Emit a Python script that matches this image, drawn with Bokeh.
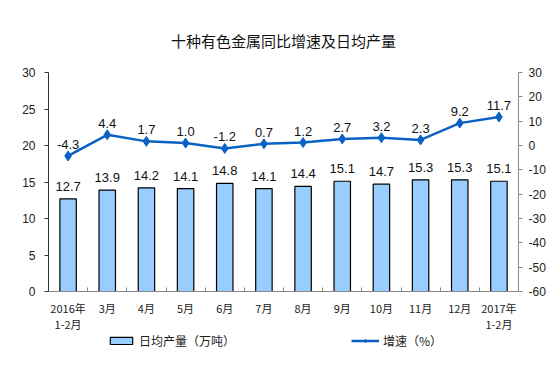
from bokeh.plotting import figure
from bokeh.layouts import column
from bokeh.models import (Range1d, LinearAxis, FixedTicker, ColumnDataSource, Legend,
                          LegendItem, LabelSet, Title)
from bokeh.core.properties import value
from bokeh.embed import file_html
from bokeh.resources import INLINE

categories = ["2016年\n1-2月", "3月", "4月", "5月", "6月", "7月", "8月", "9月",
              "10月", "11月", "12月", "2017年\n1-2月"]
output = [12.7, 13.9, 14.2, 14.1, 14.8, 14.1, 14.4, 15.1, 14.7, 15.3, 15.3, 15.1]
growth = [-4.3, 4.4, 1.7, 1.0, -1.2, 0.7, 1.2, 2.7, 3.2, 2.3, 9.2, 11.7]
left_ticks = [0, 5, 10, 15, 20, 25, 30]
right_ticks = [-60, -50, -40, -30, -20, -10, 0, 10, 20, 30]

xs = list(range(len(categories)))
src = ColumnDataSource(dict(
    x=xs, out=output, gr=growth,
    out_lbl=[f"{v:.1f}" for v in output],
    gr_lbl=[f"{v:.1f}" for v in growth],
))

CJK = "Noto Sans CJK SC"
NUM = "Liberation Sans"
BAR_FILL = "#99CCFF"
LINE_COL = "#0B62C4"

p = figure(frame_width=470, frame_height=219, output_backend="svg", toolbar_location=None,
           x_range=Range1d(-0.5, len(categories) - 0.5), y_range=Range1d(0, 30),
           min_border_left=48, min_border_right=30, min_border_top=72,
           min_border_bottom=33)
p.outline_line_color = None
p.xgrid.visible = False
p.ygrid.visible = False
p.background_fill_color = "white"
p.border_fill_color = "white"

p.title = Title(text="十种有色金属同比增速及日均产量", align="center",
                text_font=CJK, text_font_size="15px", text_font_style="normal",
                text_color="#111111")
p.add_layout(Title(text=" ", text_font_size="4px"), "above")

p.extra_y_ranges = {"right": Range1d(-60, 30)}

# left axis
ya = p.yaxis[0]
ya.ticker = FixedTicker(ticks=left_ticks)
ya.minor_tick_line_color = None
ya.major_tick_out = 4
ya.major_tick_in = 0
ya.axis_line_color = "#333333"
ya.major_tick_line_color = "#333333"
ya.major_label_text_font = NUM
ya.major_label_text_font_size = "12px"
ya.major_label_text_color = "#222222"
ya.major_label_standoff = 9

ra = LinearAxis(y_range_name="right", ticker=FixedTicker(ticks=right_ticks))
ra.major_label_overrides = {t: str(t) for t in right_ticks}
ra.minor_tick_line_color = None
ra.major_tick_out = 4
ra.major_tick_in = 0
ra.axis_line_color = "#888888"
ra.major_tick_line_color = "#888888"
ra.major_label_text_font = NUM
ra.major_label_text_font_size = "12px"
ra.major_label_text_color = "#222222"
ra.major_label_standoff = 6
p.add_layout(ra, "right")

xa = p.xaxis[0]
xa.ticker = FixedTicker(ticks=xs, minor_ticks=[i + 0.5 for i in range(-1, len(categories))])
xa.major_label_overrides = {i: c for i, c in enumerate(categories)}
xa.major_tick_out = 0
xa.major_tick_in = 0
xa.minor_tick_in = 4
xa.minor_tick_out = 0
xa.minor_tick_line_color = "#888888"
xa.axis_line_color = "#888888"
xa.major_label_text_font = CJK
xa.major_label_text_font_size = "11px"
xa.major_label_text_color = "#222222"
xa.major_label_text_line_height = 1.0
xa.major_label_standoff = 8

p.vbar(x="x", top="out", width=0.42, source=src, fill_color=BAR_FILL,
       line_color="#000000", line_width=1.2)
p.line(x="x", y="gr", source=src, y_range_name="right",
       line_color=LINE_COL, line_width=2.5)
p.scatter(x="x", y="gr", source=src, y_range_name="right", marker="diamond",
          size=10, fill_color=LINE_COL, line_color=LINE_COL)

p.add_layout(LabelSet(x="x", y="out", text="out_lbl", source=src, text_align="center",
                      text_baseline="bottom", y_offset=8, text_font=value(NUM),
                      text_font_size=value("13px"), text_color="#111111"))
p.add_layout(LabelSet(x="x", y="gr", text="gr_lbl", source=src, text_align="center",
                      text_baseline="bottom", y_offset=7, y_range_name="right",
                      text_font=value(NUM), text_font_size=value("13px"),
                      text_color="#111111"))

# legend strip (separate small figure so the legend sits just under the axis labels)
lg = figure(frame_width=548, frame_height=16, output_backend="svg", toolbar_location=None,
            x_range=Range1d(0, 1), y_range=Range1d(0, 1), x_axis_type=None,
            y_axis_type=None, min_border=0)
lg.outline_line_color = None
lg.xgrid.visible = False
lg.ygrid.visible = False
# legend swatch renderers: a point kept outside the visible range
offscreen = ColumnDataSource(dict(x=[-5], y=[-5], top=[-5]))
lb = lg.vbar(x="x", top="top", width=0.1, source=offscreen, fill_color=BAR_FILL,
             line_color="#000000", line_width=1.2)
ll = lg.line(x="x", y="y", source=offscreen, line_color=LINE_COL, line_width=2.5)
lp = lg.scatter(x="x", y="y", source=offscreen, marker="diamond", size=10,
                fill_color=LINE_COL, line_color=LINE_COL)
legend = Legend(items=[LegendItem(label="日均产量（万吨）", renderers=[lb]),
                       LegendItem(label="增速（%）", renderers=[ll, lp])],
                orientation="horizontal", location=(107, 1), spacing=116,
                glyph_width=28, glyph_height=9, label_text_font=CJK,
                label_text_font_size="12px", label_text_color="#222222",
                border_line_color=None, background_fill_alpha=0, padding=0,
                margin=0, label_standoff=4, label_height=14)
lg.add_layout(legend, "center")

open("out.html", "w").write(file_html(column(p, lg, spacing=0), INLINE))
